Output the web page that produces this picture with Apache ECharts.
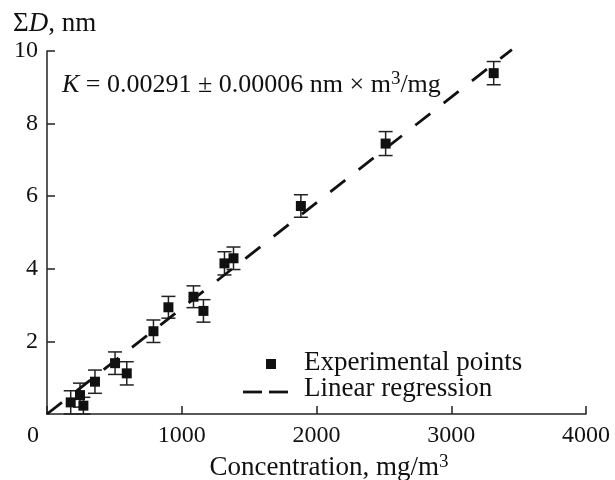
<!DOCTYPE html>
<html>
<head>
<meta charset="utf-8">
<script src="https://cdn.jsdelivr.net/npm/echarts@6/dist/echarts.min.js"></script>
<style>
  html, body { margin: 0; padding: 0; background: #fff; }
  #main { width: 615px; height: 480px; }
</style>
</head>
<body>
<div id="main"></div>
<script>
// experimental points: concentration (mg/m3), sum D (nm), error (nm)
const concX = [176, 245, 270, 356, 505, 592, 790, 901, 1087, 1161, 1317, 1384, 1884, 2513, 3315]
const sumD = [0.32, 0.52, 0.23, 0.89, 1.40, 1.12, 2.28, 2.94, 3.23, 2.84, 4.15, 4.29, 5.73, 7.45, 9.39]
const errD = [0.32, 0.33, 0.23, 0.32, 0.31, 0.32, 0.31, 0.30, 0.30, 0.31, 0.32, 0.31, 0.31, 0.33, 0.32]
// linear regression end points
const regX = [0, 3450]
const regY = [0, 10.04]
// axis ticks
const xTicks = [0, 1000, 2000, 3000, 4000]
const yTicks = [0, 2, 4, 6, 8, 10]

const FONT = "'Liberation Serif', 'DejaVu Serif', serif"

// superscript style for rich text
const SUP = { fontFamily: FONT, fontSize: 19, lineHeight: 12, verticalAlign: 'top', color: '#111', fill: '#111' }

function errorBars(params, api) {
  var x = api.value(0)
  var y = api.value(1)
  var e = api.value(2)
  var top = api.coord([x, y + e])
  var bot = api.coord([x, y - e])
  var hw = 7
  var st = { stroke: '#222', lineWidth: 1.5 }
  return {
    type: 'group',
    children: [
      { type: 'line', shape: { x1: top[0], y1: top[1], x2: bot[0], y2: bot[1] }, style: st },
      { type: 'line', shape: { x1: top[0] - hw, y1: top[1], x2: top[0] + hw, y2: top[1] }, style: st },
      { type: 'line', shape: { x1: bot[0] - hw, y1: bot[1], x2: bot[0] + hw, y2: bot[1] }, style: st }
    ]
  }
}

var chartDom = document.getElementById('main')
var myChart = echarts.init(chartDom)
var option

option = {
  animation: false,
  backgroundColor: '#fff',
  grid: {
    left: 47,
    right: 29,
    top: 51,
    bottom: 66,
    containLabel: false,
    outerBoundsMode: 'none'
  },
  xAxis: {
    type: 'value',
    min: xTicks[0],
    max: xTicks[xTicks.length - 1],
    interval: xTicks[1] - xTicks[0],
    name: 'Concentration, mg/m{s|3}',
    nameLocation: 'middle',
    nameGap: 52,
    nameTextStyle: {
      fontFamily: FONT,
      fontSize: 27,
      lineHeight: 30,
      color: '#111',
      verticalAlign: 'middle',
      padding: [0, 0, 0, 25],
      rich: { s: SUP }
    },
    axisLine: { lineStyle: { color: '#222', width: 1.5 } },
    axisTick: { inside: true, length: 8, lineStyle: { color: '#222', width: 1.5 } },
    splitLine: { show: false },
    axisLabel: {
      margin: 10,
      fontFamily: FONT,
      fontSize: 24,
      color: '#111',
      formatter: function (v) { return v === 0 ? '{z|0}' : String(v) },
      rich: {
        z: { fontFamily: FONT, fontSize: 24, color: '#111', padding: [0, 28, 0, 0] }
      }
    }
  },
  yAxis: {
    type: 'value',
    min: yTicks[0],
    max: yTicks[yTicks.length - 1],
    interval: yTicks[1] - yTicks[0],
    axisLine: { show: true, lineStyle: { color: '#222', width: 1.5 } },
    axisTick: { show: true, inside: true, length: 8, lineStyle: { color: '#222', width: 1.5 } },
    splitLine: { show: false },
    axisLabel: {
      showMinLabel: false,
      margin: 9,
      fontFamily: FONT,
      fontSize: 24,
      color: '#111'
    }
  },
  series: [
    {
      //误差线
      type: 'custom',
      z: 2,
      renderItem: errorBars,
      data: concX.map((x, i) => [x, sumD[i], errD[i]])
    },
    {
      //实验点
      type: 'scatter',
      z: 3,
      symbol: 'rect',
      symbolSize: 10,
      itemStyle: { color: '#111', opacity: 1 },
      data: concX.map((x, i) => [x, sumD[i]])
    },
    {
      //线性回归
      type: 'line',
      z: 4,
      clip: false,
      symbol: 'none',
      lineStyle: { color: '#111', width: 2.8, type: [19, 17] },
      data: regX.map((x, i) => [x, regY[i]])
    }
  ],
  graphic: [
    {
      type: 'text',
      x: 13,
      y: 24,
      style: {
        text: 'Σ{i|D}, nm',
        font: '27px ' + FONT,
        fill: '#111',
        textVerticalAlign: 'middle',
        verticalAlign: 'middle',
        rich: { i: { fontFamily: FONT, fontSize: 27, fontStyle: 'italic', fill: '#111' } }
      }
    },
    {
      type: 'text',
      x: 62,
      y: 85,
      style: {
        text: '{i|K} = 0.00291 ± 0.00006 nm × m{s|3}/mg',
        font: '26px ' + FONT,
        lineHeight: 30,
        fill: '#111',
        textVerticalAlign: 'middle',
        verticalAlign: 'middle',
        rich: {
          i: { fontFamily: FONT, fontSize: 26, lineHeight: 30, fontStyle: 'italic', fill: '#111' },
          s: SUP
        }
      }
    },
    // legend
    {
      type: 'rect',
      shape: { x: 266, y: 359, width: 10, height: 10 },
      style: { fill: '#111' }
    },
    {
      type: 'text',
      x: 304,
      y: 363,
      style: {
        text: 'Experimental points',
        font: '27px ' + FONT,
        fill: '#111',
        textVerticalAlign: 'middle',
        verticalAlign: 'middle'
      }
    },
    {
      type: 'line',
      shape: { x1: 243, y1: 392, x2: 262, y2: 392 },
      style: { stroke: '#111', lineWidth: 2.8 }
    },
    {
      type: 'line',
      shape: { x1: 269, y1: 392, x2: 288, y2: 392 },
      style: { stroke: '#111', lineWidth: 2.8 }
    },
    {
      type: 'text',
      x: 304,
      y: 389,
      style: {
        text: 'Linear regression',
        font: '27px ' + FONT,
        fill: '#111',
        textVerticalAlign: 'middle',
        verticalAlign: 'middle'
      }
    }
  ]
}

option && myChart.setOption(option)
</script>
</body>
</html>
